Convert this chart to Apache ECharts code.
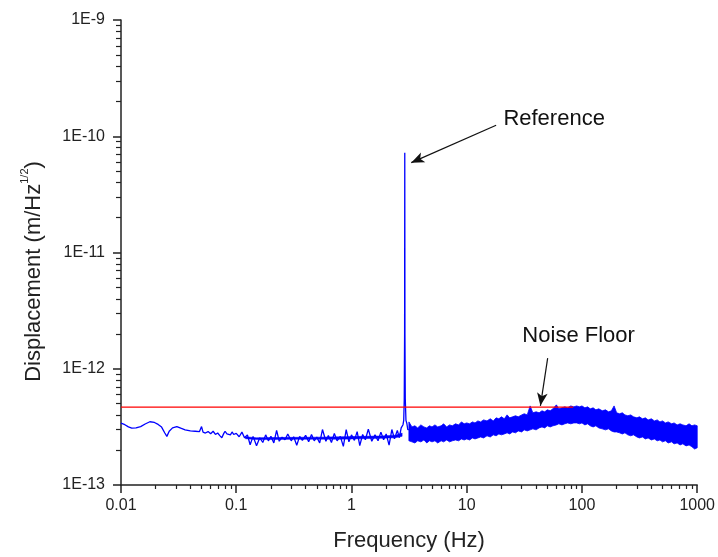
<!DOCTYPE html>
<html><head><meta charset="utf-8">
<script src="https://cdn.jsdelivr.net/npm/echarts@6/dist/echarts.min.js"></script>
<style>html,body{margin:0;padding:0;background:#fff}#c{width:718px;height:557px}</style>
</head><body><div id="c"></div>
<script>
// Low-frequency trace and reference peak (Hz, m/Hz^1/2)
const freq = [
 0.0100,0.0108,0.0116,0.0124,0.0135,0.0148,0.0162,0.0178,0.0195,0.0210,0.0225,0.0240,0.0250,0.0262,0.0280,0.0305,0.0330,0.0360,0.0400,0.0440,
 0.0480,0.0500,0.0515,0.0540,0.0570,0.0600,0.0630,0.0660,0.0690,0.0720,0.0750,0.0780,0.0800,0.0830,0.0860,0.0890,0.0920,0.0950,0.0980,
 0.100,0.106,0.112,0.118,0.125,0.132,0.140,0.150,0.160,0.170,0.180,0.190,0.200,0.212,0.224,0.236,0.250,0.265,0.280,0.300,
 0.315,0.335,0.355,0.375,0.400,0.425,0.450,0.475,0.500,0.530,0.560,0.600,0.630,0.670,0.710,0.750,0.800,0.850,0.900,0.950,
 1.00,1.06,1.12,1.18,1.25,1.32,1.40,1.50,1.60,1.70,1.80,1.90,2.00,2.12,2.24,2.36,2.50,2.60,2.70,2.80,
 2.84,2.87,2.89,2.90,2.91,2.93,2.97,3.02,3.08,3.15
];
const disp = [
 3.40e-13,3.30e-13,3.16e-13,3.08e-13,3.10e-13,3.18e-13,3.35e-13,3.50e-13,3.45e-13,3.32e-13,3.15e-13,2.80e-13,2.62e-13,2.90e-13,3.10e-13,3.18e-13,3.08e-13,2.98e-13,2.92e-13,2.90e-13,
 2.88e-13,3.18e-13,2.85e-13,2.80e-13,2.88e-13,2.76e-13,2.90e-13,2.72e-13,2.80e-13,2.66e-13,2.55e-13,2.78e-13,2.90e-13,2.75e-13,2.82e-13,2.70e-13,2.86e-13,2.72e-13,2.80e-13,
 2.78e-13,2.60e-13,2.85e-13,2.55e-13,2.70e-13,2.22e-13,2.62e-13,2.18e-13,2.55e-13,2.32e-13,2.70e-13,2.40e-13,2.62e-13,2.30e-13,2.95e-13,2.38e-13,2.58e-13,2.45e-13,2.75e-13,2.40e-13,
 2.60e-13,2.20e-13,2.62e-13,2.42e-13,2.68e-13,2.36e-13,2.72e-13,2.40e-13,2.58e-13,2.30e-13,3.00e-13,2.38e-13,2.66e-13,2.32e-13,2.78e-13,2.40e-13,2.62e-13,2.15e-13,3.00e-13,2.35e-13,
 2.70e-13,2.42e-13,2.88e-13,2.18e-13,2.72e-13,2.45e-13,3.02e-13,2.38e-13,2.70e-13,2.40e-13,2.85e-13,2.45e-13,2.75e-13,2.20e-13,3.00e-13,2.50e-13,2.95e-13,2.55e-13,3.10e-13,3.30e-13,
 3.60e-13,5.50e-13,2.00e-12,7.22e-11,2.00e-12,5.50e-13,3.60e-13,3.40e-13,3.00e-13,3.00e-13
];
// Dense core of the low-frequency trace (0.1-2.8 Hz)
const lowBandFreq = [0.12, 0.15, 0.2, 0.3, 0.5, 0.8, 1.2, 1.8, 2.4, 2.75];
const lowBandTop = [2.60e-13, 2.55e-13, 2.56e-13, 2.57e-13, 2.58e-13, 2.60e-13, 2.62e-13, 2.64e-13, 2.68e-13, 2.80e-13];
const lowBandBottom = [2.50e-13, 2.46e-13, 2.46e-13, 2.47e-13, 2.48e-13, 2.48e-13, 2.50e-13, 2.52e-13, 2.55e-13, 2.62e-13];
// High-frequency noise band: upper and lower envelope of the dense trace
const bandFreq = [
 3.15,3.35,3.55,3.75,4.0,4.25,4.5,4.75,5.0,5.3,5.6,6.0,6.3,6.7,7.1,7.5,8.0,8.5,9.0,9.5,
 10,10.6,11.2,11.8,12.5,13.2,14,15,16,17,18,19,20,21.2,22.4,23.6,25,26.5,28,30,31.5,33.5,35.5,37.5,40,42.5,45,47.5,50,53,56,60,63,67,71,75,80,85,90,95,
 100,106,112,118,125,132,140,150,160,170,180,190,200,212,224,236,250,265,280,300,315,335,355,375,400,425,450,475,500,530,560,600,630,670,710,750,800,850,900,950,
 1000
];
const bandTop = [
 3.49e-13,3.16e-13,3.23e-13,3.10e-13,3.29e-13,3.16e-13,3.10e-13,3.23e-13,3.16e-13,3.29e-13,3.16e-13,3.23e-13,3.36e-13,3.16e-13,3.29e-13,3.23e-13,3.36e-13,3.29e-13,3.49e-13,3.36e-13,
 3.42e-13,3.36e-13,3.49e-13,3.42e-13,3.56e-13,3.49e-13,3.63e-13,3.56e-13,3.71e-13,3.56e-13,3.78e-13,3.71e-13,3.86e-13,3.71e-13,4.01e-13,3.78e-13,3.86e-13,3.94e-13,3.86e-13,4.01e-13,4.10e-13,4.01e-13,4.79e-13,4.18e-13,4.26e-13,4.18e-13,4.35e-13,4.26e-13,4.43e-13,4.35e-13,4.52e-13,4.89e-13,4.52e-13,4.61e-13,4.70e-13,4.61e-13,4.79e-13,4.70e-13,4.79e-13,4.70e-13,
 4.79e-13,4.61e-13,4.70e-13,4.52e-13,4.61e-13,4.43e-13,4.52e-13,4.35e-13,4.43e-13,4.26e-13,4.35e-13,4.79e-13,4.18e-13,4.10e-13,4.18e-13,4.01e-13,3.94e-13,4.01e-13,3.86e-13,3.78e-13,3.86e-13,3.71e-13,3.78e-13,3.63e-13,3.71e-13,3.56e-13,3.63e-13,3.49e-13,3.56e-13,3.42e-13,3.49e-13,3.36e-13,3.42e-13,3.29e-13,3.36e-13,3.29e-13,3.23e-13,3.36e-13,3.23e-13,3.29e-13,
 3.23e-13
];
const bandBottom = [
 2.40e-13,2.35e-13,2.30e-13,2.40e-13,2.35e-13,2.44e-13,2.30e-13,2.40e-13,2.35e-13,2.40e-13,2.30e-13,2.40e-13,2.35e-13,2.44e-13,2.35e-13,2.40e-13,2.44e-13,2.40e-13,2.49e-13,2.44e-13,
 2.49e-13,2.44e-13,2.54e-13,2.49e-13,2.54e-13,2.59e-13,2.54e-13,2.65e-13,2.59e-13,2.70e-13,2.65e-13,2.75e-13,2.70e-13,2.75e-13,2.81e-13,2.75e-13,2.86e-13,2.81e-13,2.92e-13,2.86e-13,2.98e-13,2.92e-13,2.98e-13,3.04e-13,2.98e-13,3.10e-13,3.16e-13,3.10e-13,3.23e-13,3.16e-13,3.23e-13,3.29e-13,3.36e-13,3.29e-13,3.36e-13,3.42e-13,3.36e-13,3.42e-13,3.42e-13,3.36e-13,
 3.42e-13,3.29e-13,3.36e-13,3.23e-13,3.16e-13,3.23e-13,3.10e-13,3.04e-13,2.98e-13,3.04e-13,2.92e-13,2.86e-13,2.86e-13,2.81e-13,2.75e-13,2.81e-13,2.70e-13,2.65e-13,2.70e-13,2.59e-13,2.54e-13,2.59e-13,2.49e-13,2.54e-13,2.44e-13,2.49e-13,2.40e-13,2.44e-13,2.35e-13,2.40e-13,2.30e-13,2.35e-13,2.26e-13,2.30e-13,2.21e-13,2.26e-13,2.17e-13,2.21e-13,2.13e-13,2.04e-13,
 2.09e-13
];
const noiseFloorLevel = 4.68e-13;
const noiseFloorRange = [0.01, 84];
const xTickValues = [0.01, 0.1, 1, 10, 100, 1000];
const xTickLabels = ['0.01', '0.1', '1', '10', '100', '1000'];
const yTickValues = [1e-13, 1e-12, 1e-11, 1e-10, 1e-9];
const yTickLabels = ['1E-13', '1E-12', '1E-11', '1E-10', '1E-9'];
const annotationTexts = ['Reference', 'Noise Floor'];
const annotationTextAt = [[20.8, 1.40e-10], [30.4, 1.925e-12]];
const arrowFrom = [[18.0, 1.245e-10], [50.4, 1.236e-12]];
const arrowTo = [[3.30, 5.93e-11], [43.6, 4.80e-13]];

const FONT = "'Liberation Sans', Arial, sans-serif";
function labelFor(vals, labels) {
  return function (v) {
    for (let i = 0; i < vals.length; i++) {
      if (Math.abs(Math.log10(v) - Math.log10(vals[i])) < 0.01) return labels[i];
    }
    return '';
  };
}
const lineData = freq.map((f, i) => [f, disp[i]]);
const bandData = bandFreq.map((f, i) => [f, bandTop[i], bandBottom[i]]);
const lowBandData = lowBandFreq.map((f, i) => [f, lowBandTop[i], lowBandBottom[i]]);
const axisColor = '#222';

function bandRenderer(strokeWidth) {
  return function (params, api) {
    if (params.dataIndex !== 0) return null;
    const n = params.dataInsideLength;
    const top = [], bot = [];
    for (let i = 0; i < n; i++) {
      top.push(api.coord([api.value(0, i), api.value(1, i)]));
      bot.push(api.coord([api.value(0, i), api.value(2, i)]));
    }
    return {type: 'polygon', shape: {points: top.concat(bot.reverse())},
      style: {fill: '#0000ff', stroke: '#0000ff', lineWidth: strokeWidth, lineJoin: 'miter', miterLimit: 20}};
  };
}

const chart = echarts.init(document.getElementById('c'), null, {renderer: 'canvas'});
chart.setOption({
  animation: false,
  backgroundColor: '#fff',
  grid: {left: 121, right: 20, top: 20, bottom: 72, containLabel: false},
  xAxis: {
    type: 'log', logBase: 10, min: 0.01, max: 1000,
    name: 'Frequency (Hz)', nameLocation: 'middle', nameGap: 45,
    nameTextStyle: {fontFamily: FONT, fontSize: 22, color: '#222'},
    axisLine: {show: true, onZero: false, lineStyle: {color: axisColor, width: 1.5}},
    axisTick: {show: true, length: 8, lineStyle: {color: axisColor, width: 1.5}},
    minorTick: {show: true, splitNumber: 9, length: 4, lineStyle: {color: axisColor, width: 1.2}},
    splitLine: {show: false}, minorSplitLine: {show: false},
    axisLabel: {fontFamily: FONT, fontSize: 16, color: '#222', margin: 13, formatter: labelFor(xTickValues, xTickLabels)}
  },
  yAxis: {
    type: 'log', logBase: 10, min: 1e-13, max: 1e-9,
    name: '{b|Displacement (m/Hz}{s|1/2}{b|)}', nameLocation: 'middle', nameGap: 76,
    nameTextStyle: {fontFamily: FONT, color: '#222', padding: [0, 38, 0, 0],
      rich: {b: {fontFamily: FONT, fontSize: 22, color: '#222', lineHeight: 26, verticalAlign: 'bottom'},
             s: {fontFamily: FONT, fontSize: 11, color: '#222', lineHeight: 12, verticalAlign: 'top'}}},
    axisLine: {show: true, onZero: false, lineStyle: {color: axisColor, width: 1.5}},
    axisTick: {show: true, length: 8, lineStyle: {color: axisColor, width: 1.5}},
    minorTick: {show: true, splitNumber: 9, length: 5, lineStyle: {color: axisColor, width: 1.2}},
    splitLine: {show: false}, minorSplitLine: {show: false},
    axisLabel: {fontFamily: FONT, fontSize: 16, color: '#222', margin: 16, formatter: labelFor(yTickValues, yTickLabels)}
  },
  series: [
    {
      type: 'custom', name: 'band', silent: true, clip: true,
      encode: {x: 0, y: [1, 2]}, data: bandData,
      renderItem: bandRenderer(0.8), z: 2
    },
    {
      type: 'custom', name: 'lowBand', silent: true, clip: true,
      encode: {x: 0, y: [1, 2]}, data: lowBandData,
      renderItem: bandRenderer(0.5), z: 2
    },
    {
      type: 'line', name: 'trace', data: lineData, showSymbol: false, symbol: 'none',
      lineStyle: {color: '#0000ff', width: 1.3}, silent: true, z: 3,
      markLine: {
        silent: true, animation: false, label: {show: false},
        symbol: ['none', 'arrow'], symbolSize: [8, 13],
        lineStyle: {color: '#111', width: 1.2, type: 'solid'},
        data: arrowFrom.map((p, i) => [{coord: p}, {coord: arrowTo[i]}])
      }
    },
    {
      type: 'line', name: 'noiseFloor', silent: true, z: 4, showSymbol: false, symbol: 'none',
      data: [[noiseFloorRange[0], noiseFloorLevel], [noiseFloorRange[1], noiseFloorLevel]],
      lineStyle: {color: '#ff0000', width: 1.2}
    }
  ]
});
const g = annotationTexts.map((t, i) => {
  const p = chart.convertToPixel({gridIndex: 0}, annotationTextAt[i]);
  return {type: 'text', x: p[0], y: p[1], silent: true,
    style: {text: t, font: '22px ' + FONT, fill: '#111', textAlign: 'left', textVerticalAlign: 'middle'}};
});
chart.setOption({graphic: g});
</script>
</body></html>
